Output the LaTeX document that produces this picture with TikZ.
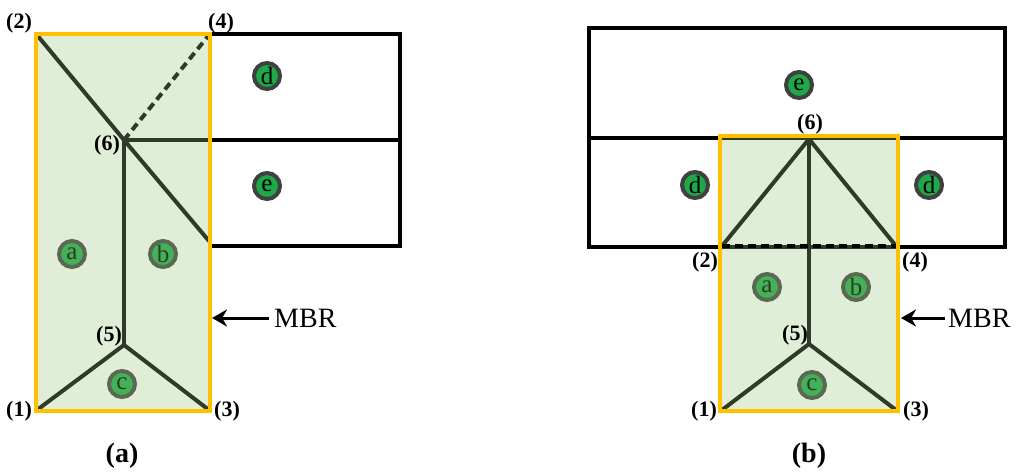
\documentclass[tikz,border=0pt]{standalone}
\usepackage{fontspec}
\setmainfont{Liberation Serif}
\usetikzlibrary{arrows.meta}
\definecolor{mbrfill}{RGB}{155,200,124}
\definecolor{mbredge}{RGB}{255,192,0}
\definecolor{dotgreen}{RGB}{30,168,72}
\definecolor{dotring}{RGB}{64,64,64}
\tikzset{
  edgeline/.style={line width=4pt, black, line cap=rect},
  cellline/.style={line width=4pt, black},
  dashline/.style={line width=4pt, black, dash pattern=on 8pt off 5pt},
  dot/.style={circle, fill=dotgreen, draw=dotring, line width=4pt, minimum size=26pt, inner sep=0pt, font=\fontsize{25}{25}\selectfont},
  mbrbox/.style={fill=mbrfill, fill opacity=0.3, draw=none},
  mbrline/.style={draw=mbredge, line width=4pt},
  vlabel/.style={font=\bfseries\fontsize{22}{22}\selectfont, inner sep=0pt},
  caption/.style={font=\bfseries\fontsize{28}{28}\selectfont, inner sep=0pt},
  mbrtext/.style={font=\fontsize{28}{28}\selectfont, inner sep=0pt, anchor=west},
  mbrarrow/.style={line width=3pt, -{Stealth[length=15pt,width=17pt]}}
}
\begin{document}
\begin{tikzpicture}[x=1pt,y=-1pt]
\useasboundingbox (0,0) rectangle (1024,474);
% ---------------- panel (a) ----------------
\coordinate (a1) at (37,410);
\coordinate (a2) at (37,35);
\coordinate (a3) at (209,410);
\coordinate (a4) at (209,35);
\coordinate (a5) at (124,345);
\coordinate (a6) at (124,140);
\coordinate (a7) at (209,241);
\coordinate (aR1) at (400,140);
% outer cells
\draw[edgeline] (210,34) -- (400,34) -- (400,246) -- (210,246);
\draw[cellline] (a6) -- (aR1);
% inner edges
\draw[cellline] (a2) -- (a6) -- (a7);
\draw[cellline] (a6) -- (a5);
\draw[cellline] (a1) -- (a5) -- (a3);
\draw[dashline] (a6) -- (a4);
% points
\node[dot] (da) at (72,254) {a};
\node[dot] (db) at (163,254) {b};
\node[dot] (dc) at (122,384) {c};
\node[dot] (dd) at (267,76) {d};
\node[dot] (de) at (267,186) {e};
% MBR
\node[mbrbox, minimum width=174pt, minimum height=377pt, inner sep=0pt] (mbrA) at (123,222.5) {};
\draw[mbrline] (mbrA.north west) rectangle (mbrA.south east);
% labels
\node[vlabel] (la1) at (19,411) {(1)};
\node[vlabel] (la2) at (19,23) {(2)};
\node[vlabel] (la3) at (227,411) {(3)};
\node[vlabel] (la4) at (221,23) {(4)};
\node[vlabel] (la5) at (109,336) {(5)};
\node[vlabel] (la6) at (107,145) {(6)};
\node[caption] (capa) at (122,456) {(a)};
\node[mbrtext] (tA) at (274,318) {MBR};
\coordinate (tipA) at (212,318);
\draw[mbrarrow] (tA.west) ++(-5,0) -- (tipA);
% ---------------- panel (b) ----------------
\coordinate (b1) at (722,410);
\coordinate (b2) at (722,246);
\coordinate (b3) at (896,410);
\coordinate (b4) at (896,246);
\coordinate (b5) at (809,344);
\coordinate (b6) at (809,139);
\coordinate (bL) at (589,138);
\coordinate (bR) at (1005,138);
\draw[edgeline] (589,28) rectangle (1005,247);
\draw[cellline] (bL) -- (bR);
\draw[cellline] (b2) -- (b6) -- (b4);
\draw[cellline] (b6) -- (b5);
\draw[cellline] (b1) -- (b5) -- (b3);
\draw[line width=2pt, black] (899,247) -- (899,411);
\node[dot] (dba) at (767,287) {a};
\node[dot] (dbb) at (856,287) {b};
\node[dot] (dbc) at (812,385) {c};
\node[dot] (dbe) at (799,85) {e};
\node[dot] (dbd1) at (695,185) {d};
\node[dot] (dbd2) at (929,185) {d};
\node[mbrbox, minimum width=178pt, minimum height=275pt, inner sep=0pt] (mbrB) at (809,273.5) {};
\draw[mbrline] (mbrB.north west) rectangle (mbrB.south east);
\draw[dashline] (b2) -- (b4);
\node[vlabel] (lb1) at (704,411) {(1)};
\node[vlabel] (lb2) at (705,262) {(2)};
\node[vlabel] (lb3) at (916,411) {(3)};
\node[vlabel] (lb4) at (915,262) {(4)};
\node[vlabel] (lb5) at (795,335) {(5)};
\node[vlabel] (lb6) at (810,124) {(6)};
\node[caption] (capb) at (809,456) {(b)};
\node[mbrtext] (tB) at (948,318) {MBR};
\coordinate (tipB) at (901,318);
\draw[mbrarrow] (tB.west) ++(-3,0) -- (tipB);
\end{tikzpicture}
\end{document}
